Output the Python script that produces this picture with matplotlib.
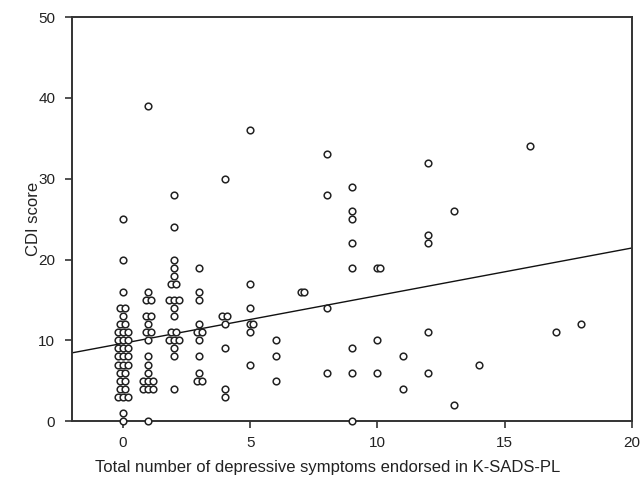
import matplotlib
matplotlib.use("Agg")
import matplotlib.pyplot as plt
import numpy as np

# ---------------------------------------------------------------------------
# Data (x has small side offsets where points overlap)
# ---------------------------------------------------------------------------

x_vals = [
    # 0 symptoms
    0, 0, 0, -0.1, 0.1, 0, -0.1, 0.1,
    -0.2, 0, 0.2, -0.2, 0, 0.2, -0.2, 0, 0.2, -0.2, 0, 0.2, -0.2, 0, 0.2,
    -0.1, 0.1, -0.1, 0.1, -0.1, 0.1, -0.2, 0, 0.2, 0, 0,
    # 1 symptom
    1, 1, 0.9, 1.1, 0.9, 1.1, 1, 0.9, 1.1, 1, 1, 1, 1,
    0.8, 1.0, 1.2, 0.8, 1.0, 1.2, 1,
    # 2 symptoms
    2, 2, 2, 2, 2, 1.9, 2.1, 1.8, 2.0, 2.2, 2, 2, 1.9, 2.1,
    1.8, 2.0, 2.2, 2, 2, 2,
    # 3 symptoms
    3, 3, 3, 3, 2.9, 3.1, 3, 3, 3, 2.9, 3.1,
    # 4 symptoms
    4, 3.9, 4.1, 4, 4, 4, 4,
    # 5 and up
    5, 5, 5, 5, 5.1, 5, 5,
    6, 6, 6,
    7.0, 7.1,
    8, 8, 8, 8,
    9, 9, 9, 9, 9, 9, 9, 9,
    10.0, 10.1, 10, 10,
    11, 11,
    12, 12, 12, 12, 12,
    13, 13,
    14, 16, 17, 18,
]

cdi_vals = [
    25, 20, 16, 14, 14, 13, 12, 12,
    11, 11, 11, 10, 10, 10, 9, 9, 9, 8, 8, 8, 7, 7, 7,
    6, 6, 5, 5, 4, 4, 3, 3, 3, 1, 0,
    39, 16, 15, 15, 13, 13, 12, 11, 11, 10, 8, 7, 6,
    5, 5, 5, 4, 4, 4, 0,
    28, 24, 20, 19, 18, 17, 17, 15, 15, 15, 14, 13, 11, 11,
    10, 10, 10, 9, 8, 4,
    19, 16, 15, 12, 11, 11, 10, 8, 6, 5, 5,
    30, 13, 13, 12, 9, 4, 3,
    36, 17, 14, 12, 12, 11, 7,
    10, 8, 5,
    16, 16,
    33, 28, 14, 6,
    29, 26, 25, 22, 19, 9, 6, 0,
    19, 19, 10, 6,
    8, 4,
    32, 23, 22, 11, 6,
    26, 2,
    7, 34, 11, 12,
]

# fitted line as drawn in the reference
fit_intercept = 9.63
fit_slope = 0.59

x_ticks = [0, 5, 10, 15, 20]
y_ticks = [0, 10, 20, 30, 40, 50]

plt.rcParams.update({
    "font.family": ["Liberation Sans", "DejaVu Sans"],
    "font.size": 11,
})

fig = plt.figure(figsize=(6.43, 4.88), dpi=100)
ax = fig.add_axes([0.112, 0.137, 0.871, 0.828])

ax.plot(x_vals, cdi_vals, linestyle="none", marker="o", markersize=4.8,
        markerfacecolor="white", markeredgecolor="#222222",
        markeredgewidth=1.1, clip_on=False, zorder=3)

x_line = np.array([-2, 20])
ax.plot(x_line, fit_intercept + fit_slope * x_line, color="#111111",
        linewidth=1.0, zorder=2)

ax.set_xlim(-2, 20)
ax.set_ylim(0, 50)
ax.set_xticks(x_ticks)
ax.set_yticks(y_ticks)

for side in ("left", "bottom", "top", "right"):
    ax.spines[side].set_color("#333333")
    ax.spines[side].set_linewidth(1.4)

ax.tick_params(direction="out", length=5, width=1.2, color="#333333",
               labelsize=11, labelcolor="#222222", top=False, right=False)
ax.tick_params(axis="x", pad=6)
ax.tick_params(axis="y", pad=7)

ax.set_xlabel("Total number of depressive symptoms endorsed in K-SADS-PL",
              fontsize=12, color="#222222")
ax.set_ylabel("CDI score", fontsize=12, color="#222222")
ax.xaxis.set_label_coords(0.457, -0.095)
ax.yaxis.set_label_coords(-0.056, 0.5)

fig.savefig("out.png", dpi=100, facecolor="white")
